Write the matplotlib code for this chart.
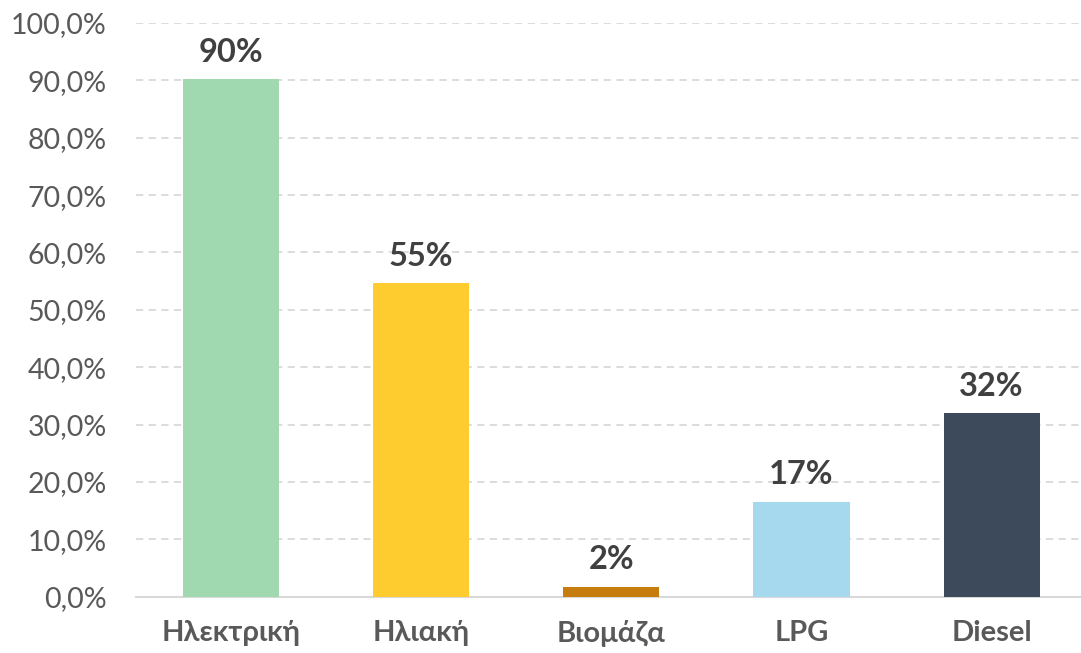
import matplotlib.pyplot as plt
from matplotlib.ticker import FuncFormatter

# data
categories = ["Ηλεκτρική", "Ηλιακή", "Βιομάζα", "LPG", "Diesel"]
values = [90.2, 54.6, 1.7, 16.5, 32.0]
labels = ["90%", "55%", "2%", "17%", "32%"]
colors = ["#A0D8B0", "#FFCC2F", "#C67D0E", "#A6D9EE", "#3C4A5C"]

plt.rcParams["font.family"] = ["Lato", "Open Sans", "DejaVu Sans"]

fig = plt.figure(figsize=(10.81, 6.53), dpi=100)
ax = fig.add_axes([136 / 1081, (653 - 596.6) / 653, (1081 - 136) / 1081, (596.6 - 23) / 653])

x = range(len(categories))
bars = ax.bar(x, values, width=0.505, color=colors, zorder=3)

for b, lab in zip(bars, labels):
    ax.annotate(lab, (b.get_x() + b.get_width() / 2, b.get_height()),
                xytext=(0, 9), textcoords="offset points",
                ha="center", va="bottom", fontsize=23.5, fontweight="bold",
                color="#404040")

ax.set_xlim(-0.5, 4.47)
ax.set_ylim(0, 100)
ax.set_yticks(range(0, 101, 10))
ax.yaxis.set_major_formatter(FuncFormatter(lambda v, p: f"{v:.1f}%".replace(".", ",")))
ax.set_xticks(list(x))
ax.set_xticklabels(categories, fontsize=21, fontweight="bold", color="#595959")
ax.tick_params(axis="y", labelsize=20.5, labelcolor="#595959", length=0, pad=21)
ax.tick_params(axis="x", length=0, pad=17)

ax.grid(axis="y", color="#D9D9D9", linestyle=(0, (4, 3)), linewidth=1.3, zorder=0)
for s in ["top", "right", "left"]:
    ax.spines[s].set_visible(False)
ax.spines["bottom"].set_color("#D9D9D9")
ax.spines["bottom"].set_linewidth(1.5)

fig.savefig("out.png", dpi=100)
